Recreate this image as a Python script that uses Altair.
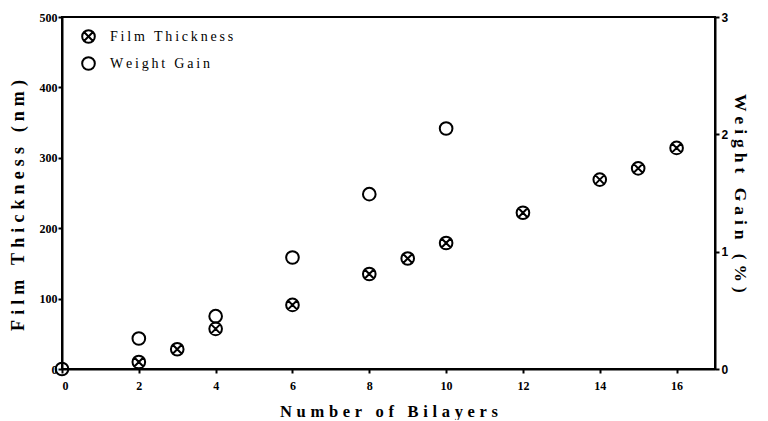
import altair as alt
import pandas as pd

# Film thickness (left axis, nm)
ft_x = [2, 3, 4, 6, 8, 9, 10, 12, 14, 15, 16]
ft_y = [10, 28, 57, 91, 135, 157, 179, 222, 269, 285, 314]
# Weight gain (right axis, %)
wg_x = [0, 2, 4, 6, 8, 10]
wg_y = [0, 0.26, 0.45, 0.95, 1.49, 2.05]

x_ticks = [0, 2, 4, 6, 8, 10, 12, 14, 16]
left_ticks = [0, 100, 200, 300, 400, 500]
right_ticks = [0, 1, 2, 3]

GAP = "\u2009\u200a"
def spaced(s, gap=GAP):
    return gap.join(list(s))

series_names = [spaced("Film Thickness", "\u2009"), spaced("Weight Gain", "\u2009")]

ft_df = pd.DataFrame({"x": ft_x, "v": ft_y, "series": series_names[0]})
wg_df = pd.DataFrame({"x": wg_x, "v": wg_y, "series": series_names[1]})

crossed = ("M-1,0A1,1 0 1,1 1,0A1,1 0 1,1 -1,0Z"
           "M-0.7071,-0.7071L0.7071,0.7071M-0.7071,0.7071L0.7071,-0.7071")

SZ = 160
shape_scale = alt.Scale(domain=series_names, range=[crossed, "circle"])
legend = alt.Legend(
    title=None, orient="none", legendX=19, legendY=12, padding=0,
    symbolSize=SZ, symbolStrokeWidth=2, symbolStrokeColor="black",
    symbolFillColor="white", labelFont="Liberation Serif", labelFontSize=14,
    labelColor="black", labelOffset=14, rowPadding=6, symbolType="circle",
)

x_enc = alt.X("x:Q", scale=alt.Scale(domain=[0, 17], nice=False),
              axis=alt.Axis(values=x_ticks, title=spaced("Number of Bilayers"),
                            grid=False, domainColor="black", domainWidth=2,
                            labelFont="Liberation Serif", labelFontWeight="bold",
                            labelFontSize=12, labelPadding=7, tickSize=4,
                            titleFont="Liberation Serif", titleFontWeight="bold",
                            titleFontSize=16.5, titlePadding=12))

left = alt.Chart(ft_df).mark_point(filled=False, color="black", strokeWidth=2,
                                   size=SZ, opacity=1).encode(
    x=x_enc,
    y=alt.Y("v:Q", scale=alt.Scale(domain=[0, 500], nice=False),
            axis=alt.Axis(values=left_ticks, title=spaced("Film Thickness (nm)"),
                          grid=False, domainColor="black", domainWidth=2,
                          labelFont="Liberation Serif", labelFontWeight="bold",
                          labelFontSize=12, labelPadding=1, tickSize=4,
                          titleFont="Liberation Serif", titleFontWeight="bold",
                          titleFontSize=18, titlePadding=12, titleY=188)),
    shape=alt.Shape("series:N", scale=shape_scale, legend=legend),
)

right = alt.Chart(wg_df).mark_point(filled=False, color="black", strokeWidth=2,
                                    size=SZ, opacity=1).encode(
    x=x_enc,
    y=alt.Y("v:Q", scale=alt.Scale(domain=[0, 3], nice=False),
            axis=alt.Axis(values=right_ticks, orient="right",
                          grid=False, domainColor="black", domainWidth=2,
                          title=spaced("Weight Gain (%)"), titleAngle=90,
                          labelFont="Liberation Sans", labelFontWeight="bold",
                          labelFontSize=12, labelPadding=2, tickSize=4,
                          titleFont="Liberation Serif", titleFontWeight="bold",
                          titleFontSize=17.5, titlePadding=3)),
    shape=alt.Shape("series:N", scale=shape_scale, legend=legend),
)

chart = alt.layer(left, right).resolve_scale(y="independent").properties(
    width=653, height=352, background="white",
    padding={"left": 1, "top": 3, "right": 8, "bottom": 0},
).configure_view(stroke="black", strokeWidth=2).configure_axis(
    grid=False, domainColor="black", domainWidth=2, tickColor="black",
    tickWidth=2, labelColor="black", titleColor="black",
)

chart.save("out.html", embed_options={"renderer": "svg", "actions": False})
